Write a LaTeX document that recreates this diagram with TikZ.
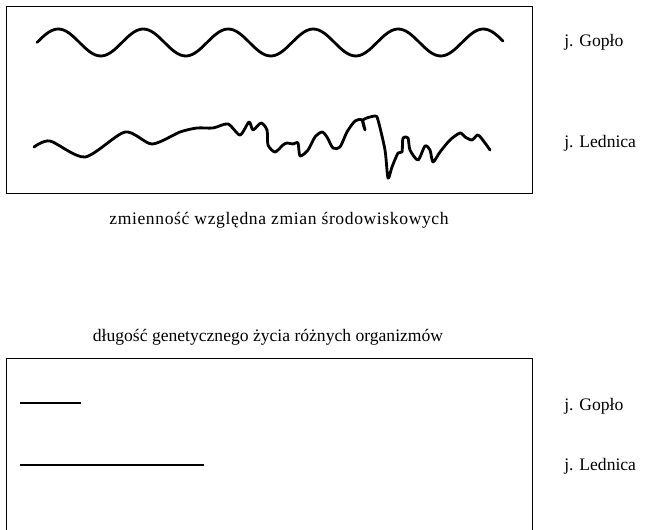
\documentclass[tikz,border=0pt]{standalone}
\usepackage{fontspec}
\setmainfont{Liberation Serif}
\newfontfamily\widecapfont[LetterSpace=3.5]{Liberation Serif}
\usetikzlibrary{positioning}

\begin{document}
\begin{tikzpicture}[
  x=0.025cm, y=-0.025cm,
  frame/.style={draw, line width=0.7pt},
  curve/.style={line width=2pt, line join=round, line cap=round},
  bar/.style={line width=0.9pt},
  lake/.style={anchor=west, font=\fontsize{12.5}{15}\selectfont, inner sep=0pt},
  caption/.style={font=\fontsize{12.5}{15}\selectfont, inner sep=0pt}
]
  \useasboundingbox (0,0) rectangle (647,530);

  % upper panel
  \draw[frame] (6,6) rectangle (532,193);
  \draw[curve] plot[domain=37:503, samples=160]
    (\x, {42.5 - 13.5*sin(4.23529*(\x-37))});
  \draw[curve] plot[smooth, tension=0.45] coordinates {
    (34,147) (50,141) (85,157) (125,132) (152,144) (180,132) (197,128)
    (213,128) (228,124) (240,135) (249,122) (253,130) (261,123) (267,130)
    (268,145) (275,152) (283,145) (287,143) (293,144) (298,143) (300,156)
    (308,150) (315,137) (322,132) (327,137) (333,148) (340,147) (347,132)
    (355,121) (362,120) (365,130) (363,120) (375,116) (378,120) (385,150)
    (388,178) (392,167) (398,153) (402,152) (403,138) (408,138) (410,150)
    (418,160) (425,146) (430,150) (433,162) (440,152) (450,140) (460,133)
    (465,137) (472,140) (478,135) (485,143) (490,150)};
  \node[lake] (gopA) at (564,42) {j. Gopło};
  \node[lake] (ledA) at (564,143) {j. Lednica};
  \node[caption, font=\widecapfont\fontsize{12.5}{15}\selectfont] (capA) at (279,220)
    {zmienność względna zmian środowiskowych};

  % lower panel
  \node[caption] (capB) at (268,337) {długość genetycznego życia różnych organizmów};
  \draw[frame] (6,530) -- (6,358) -- (532,358) -- (532,530);
  \coordinate (gopS) at (20,403);
  \coordinate (gopE) at (81,403);
  \coordinate (ledS) at (20,465);
  \coordinate (ledE) at (204,465);
  \draw[bar] (gopS) -- (gopE);
  \draw[bar] (ledS) -- (ledE);
  \node[lake] (gopB) at (564,406) {j. Gopło};
  \node[lake] (ledB) at (564,466) {j. Lednica};
\end{tikzpicture}
\end{document}
